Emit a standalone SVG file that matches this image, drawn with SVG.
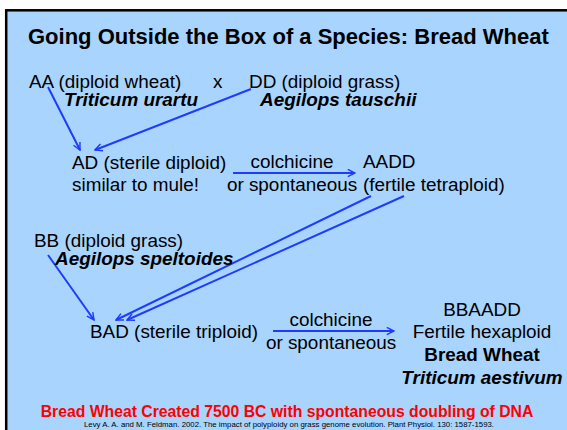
<svg xmlns="http://www.w3.org/2000/svg" width="567" height="430" viewBox="0 0 567 430">
<defs>
<marker id="ah" viewBox="0 0 10 10" refX="9" refY="5" markerWidth="9" markerHeight="9" markerUnits="userSpaceOnUse" orient="auto">
<path d="M1,1 L9,5 L1,9" fill="none" stroke="#1E3CFF" stroke-width="1.6"/>
</marker>
<style>
text{font-family:"Liberation Sans",Arial,sans-serif;fill:#000}
.t{font-size:22px;font-weight:bold}
.b{font-size:18.9px}
.bi{font-size:18.9px;font-weight:bold;font-style:italic}
.bb{font-size:18.9px;font-weight:bold}
.m{text-anchor:middle}
.red{font-size:15.75px;font-weight:bold;fill:#FF0000;text-anchor:middle}
.cit{font-size:7.4px;text-anchor:middle}
.c{fill:none;stroke:#1E3CFF;stroke-width:2;marker-end:url(#ah)}
</style>
</defs>
<rect x="0" y="0" width="567" height="430" fill="#FFFFFF"/>
<rect x="6.2" y="10.3" width="570" height="430" fill="#A8D4FE" stroke="#000" stroke-width="2.5"/>
<text class="t" x="28" y="44">Going Outside the Box of a Species: Bread Wheat</text>
<g id="connectors">
<line class="c" x1="48" y1="87" x2="80" y2="150"/>
<line class="c" x1="251" y1="89" x2="95" y2="150"/>
<line class="c" x1="233" y1="173" x2="355" y2="173"/>
<line class="c" x1="371" y1="196" x2="116" y2="320"/>
<line class="c" x1="404" y1="196" x2="127" y2="320"/>
<line class="c" x1="48" y1="255" x2="94" y2="320"/>
<line class="c" x1="273" y1="331" x2="394" y2="331"/>
</g>
<g id="node-AA">
<text class="b" x="29" y="87.5">AA (diploid wheat)</text>
<text class="bi" x="64" y="105.5">Triticum urartu</text>
</g>
<g id="cross"><text class="b" x="213" y="87.5">x</text></g>
<g id="node-DD">
<text class="b" x="249" y="87.5">DD (diploid grass)</text>
<text class="bi" x="260" y="105.5">Aegilops tauschii</text>
</g>
<g id="node-AD">
<text class="b" x="72" y="169">AD (sterile diploid)</text>
<text class="b" x="72" y="191">similar to mule!</text>
</g>
<g id="label-1">
<text class="b m" x="292" y="168">colchicine</text>
<text class="b m" x="292" y="191">or spontaneous</text>
</g>
<g id="node-AADD">
<text class="b" x="363" y="168">AADD</text>
<text class="b" x="363" y="191">(fertile tetraploid)</text>
</g>
<g id="node-BB">
<text class="b" x="34" y="246.5">BB (diploid grass)</text>
<text class="bi" x="55" y="264.5">Aegilops speltoides</text>
</g>
<g id="node-BAD">
<text class="b" x="90" y="338">BAD (sterile triploid)</text>
</g>
<g id="label-2">
<text class="b m" x="331" y="326">colchicine</text>
<text class="b m" x="331" y="349">or spontaneous</text>
</g>
<g id="node-BBAADD">
<text class="b m" x="482" y="316">BBAADD</text>
<text class="b m" x="482" y="338">Fertile hexaploid</text>
<text class="bb m" x="482" y="361">Bread Wheat</text>
<text class="bi m" x="482" y="384">Triticum aestivum</text>
</g>
<text class="red" x="287" y="417">Bread Wheat Created 7500 BC with spontaneous doubling of DNA</text>
<text class="cit" x="289" y="426.5" textLength="410" lengthAdjust="spacingAndGlyphs">Levy A. A. and M. Feldman. 2002. The impact of polyploidy on grass genome evolution. Plant Physiol. 130: 1587-1593.</text>
</svg>
